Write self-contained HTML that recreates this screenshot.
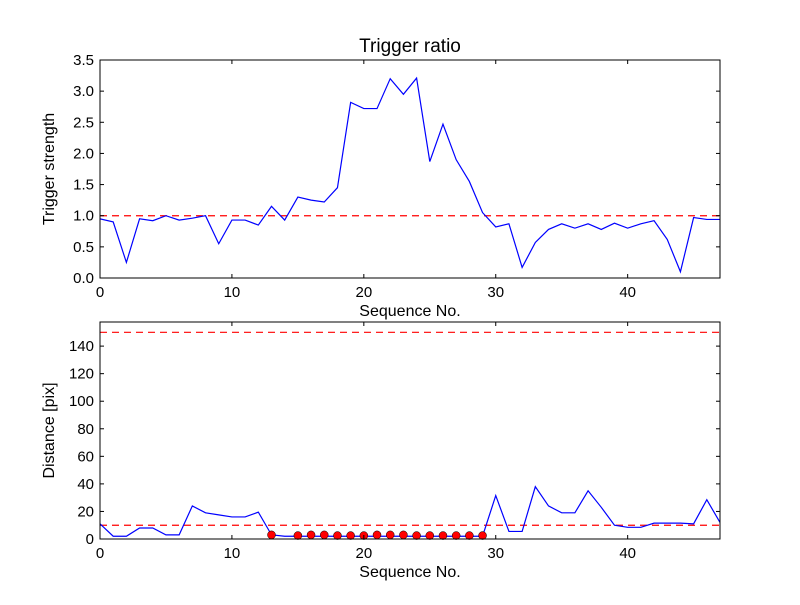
<!DOCTYPE html>
<html><head><meta charset="utf-8"><style>body{margin:0;background:#fff}svg{font-family:"Liberation Sans",sans-serif}</style></head>
<body>
<svg id="c" width="800" height="600" xmlns="http://www.w3.org/2000/svg">
<rect width="800" height="600" fill="#fff"/>
</svg>
<script>
const seqNo = [];
for (let i = 0; i <= 47; i++) seqNo.push(i);
const triggerStrength = [0.95,0.9,0.25,0.95,0.92,1.0,0.93,0.96,1.0,0.55,0.93,0.93,0.85,1.15,0.93,1.3,1.25,1.22,1.45,2.82,2.72,2.72,3.2,2.95,3.21,1.87,2.47,1.9,1.55,1.05,0.82,0.87,0.17,0.57,0.78,0.87,0.8,0.87,0.78,0.88,0.8,0.87,0.92,0.62,0.1,0.97,0.94,0.94];
const distance = [11,2,2,8,8,3,3,24,19,17.5,16,16,19.5,3,2,2,2,2,2,2,2,2,2,2,2,2,2,2,2,2,31.5,5.5,5.5,38,24,19,19,35,23,10,8.5,8.5,11.5,11.5,11.5,11,28.5,12];
const markerIdx = [13,15,16,17,18,19,20,21,22,23,24,25,26,27,28,29];
const markerVals = [3,2.5,3,3,2.5,2.5,2.5,3,3,3,2.5,2.5,2.5,2.5,2.5,2.5];
const topYTicks = [0,0.5,1,1.5,2,2.5,3,3.5];
const topYLabels = ["0.0","0.5","1.0","1.5","2.0","2.5","3.0","3.5"];
const botYTicks = [0,20,40,60,80,100,120,140];
const xTicks = [0,10,20,30,40];
const topThreshold = 1.0;
const botThresholds = [10,150];

const svg = document.getElementById('c');
const NS = 'http://www.w3.org/2000/svg';
function mk(tag, attrs, parent) {
  const e = document.createElementNS(NS, tag);
  for (const k in attrs) e.setAttribute(k, attrs[k]);
  (parent || svg).appendChild(e);
  return e;
}
const L = 100, R = 720;
function panel(top, bottom, ymax, yt, yl, ys, thr, title, ylabel, name, markers) {
  const g = mk('g', {});
  
  
  const x = v => L + (R - L) * v / 47;
  const y = v => bottom - (bottom - top) * v / ymax;
  const clipId = name + '-clip';
  const cp = mk('clipPath', {id: clipId}, g);
  mk('rect', {x: L, y: top, width: R - L, height: bottom - top}, cp);
  const pg = mk('g', {'clip-path': 'url(#' + clipId + ')'}, g);
  thr.forEach(t => {
    const ln = mk('line', {x1: L, x2: R, y1: y(t), y2: y(t), stroke: '#ff0000', 'stroke-dasharray': '7,5', 'stroke-width': 1.2}, pg);
    
    
  });
  const pts = ys.map((v, i) => x(seqNo[i]) + ',' + y(v)).join(' ');
  const pl = mk('polyline', {points: pts, fill: 'none', stroke: '#0000ff', 'stroke-width': 1.2}, pg);
  
  
  if (markers) {
    markerIdx.forEach((xi, k) => {
      const c = mk('circle', {cx: x(xi), cy: y(markerVals[k]), r: 4, fill: '#ff0000', stroke: '#000', 'stroke-width': 0.5}, g);
      
      
    });
  }
  mk('rect', {x: L, y: top, width: R - L, height: bottom - top, fill: 'none', stroke: '#000', 'stroke-width': 1}, g);
  yt.forEach((t, i) => {
    const yy = y(t);
    mk('line', {x1: L, x2: L + 4, y1: yy, y2: yy, stroke: '#000'}, g);
    mk('line', {x1: R, x2: R - 4, y1: yy, y2: yy, stroke: '#000'}, g);
    const tx = mk('text', {x: L - 6, y: yy + 5, 'text-anchor': 'end', 'font-size': 15}, g);
    tx.textContent = yl[i];
    
    
  });
  xTicks.forEach(t => {
    const xx = x(t);
    mk('line', {x1: xx, x2: xx, y1: bottom, y2: bottom - 4, stroke: '#000'}, g);
    mk('line', {x1: xx, x2: xx, y1: top, y2: top + 4, stroke: '#000'}, g);
    const tx = mk('text', {x: xx, y: bottom + 19, 'text-anchor': 'middle', 'font-size': 15}, g);
    tx.textContent = String(t);
    
    
  });
  const xl = mk('text', {x: (L + R) / 2, y: bottom + 38, 'text-anchor': 'middle', 'font-size': 16}, g);
  xl.textContent = 'Sequence No.';
  
  
  const yc = (top + bottom) / 2;
  const ylt = mk('text', {x: 0, y: 0, transform: 'translate(' + (L - 46) + ',' + yc + ') rotate(-90)', 'text-anchor': 'middle', 'font-size': 16}, g);
  ylt.textContent = ylabel;
  
  
  if (title) {
    const tt = mk('text', {x: (L + R) / 2, y: top - 8, 'text-anchor': 'middle', 'font-size': 19}, g);
    tt.textContent = title;
    
    
  }
}
panel(60, 278, 3.5, topYTicks, topYLabels, triggerStrength, [topThreshold], 'Trigger ratio', 'Trigger strength', 'top-panel', false);
panel(322, 539, 157.5, botYTicks, botYTicks.map(String), distance, botThresholds, null, 'Distance [pix]', 'bottom-panel', true);
</script>
</body></html>
